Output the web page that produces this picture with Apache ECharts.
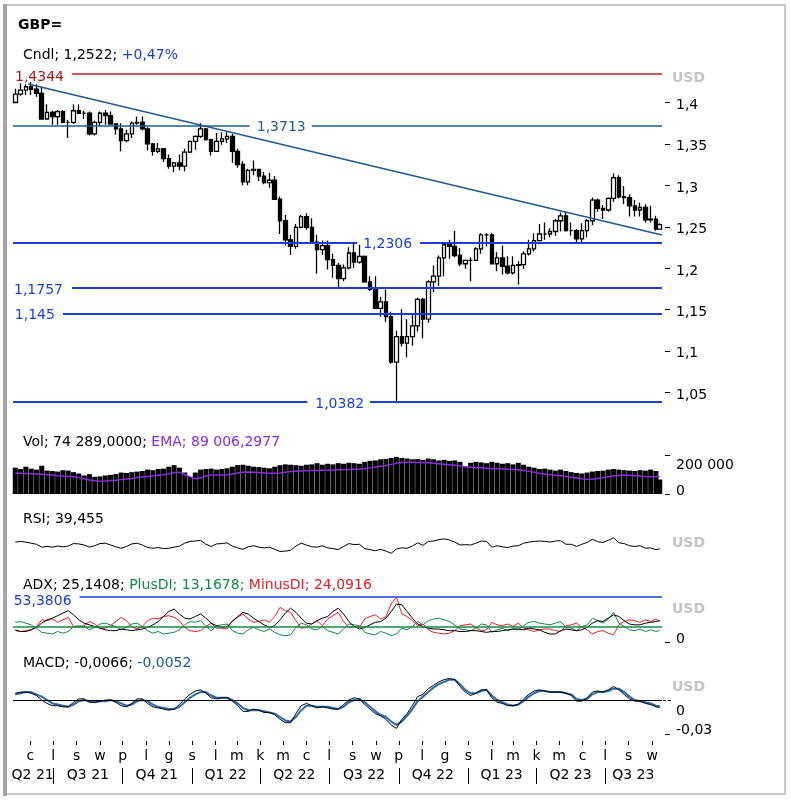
<!DOCTYPE html>
<html><head><meta charset="utf-8">
<script src="https://cdn.jsdelivr.net/npm/echarts@6/dist/echarts.min.js"></script>
<style>html,body{margin:0;padding:0;background:#fff}#c{width:791px;height:800px}</style>
</head><body><div id="c"></div>
<script>
// ---------- categories ----------
const axisStart = '2021-05-09';      // left edge of the plots
const axisEnd = '2023-09-14';        // right edge of the plots
const firstWeek = '2021-05-12';      // first weekly candle (mid-week)
const weekCount = 122;
const lastDay = '2023-09-11';        // last (single-day) candle
const monthLetters = ['s','l','m','k','m','c','l','s','w','p','l','g'];
const quarterDays  = ['2021-06-04','2021-08-16','2021-11-15','2022-02-14','2022-05-16','2022-08-16','2022-11-15','2023-02-14','2023-05-16','2023-08-07'];
const quarterNames = ['Q2 21','Q3 21','Q4 21','Q1 22','Q2 22','Q3 22','Q4 22','Q1 23','Q2 23','Q3 23'];
const priceTicks = [1.05,1.1,1.15,1.2,1.25,1.3,1.35,1.4];
const volTicks = [0,200000];
const adxTicks = [0];
const macdTicks = [-0.03,0];

// ---------- series values ----------
const opens = [1.4000,1.4100,1.4150,1.4190,1.4160,1.4110,1.3800,1.3880,1.3830,1.3890,
 1.3760,1.3760,1.3900,1.3870,1.3870,1.3620,1.3760,1.3870,1.3840,1.3740,
 1.3680,1.3540,1.3620,1.3750,1.3760,1.3680,1.3500,1.3410,1.3440,1.3320,
 1.3230,1.3270,1.3230,1.3400,1.3530,1.3590,1.3680,1.3550,1.3410,1.3530,
 1.3560,1.3590,1.3410,1.3250,1.3040,1.3180,1.3190,1.3110,1.3030,1.3060,
 1.2830,1.2570,1.2340,1.2260,1.2490,1.2620,1.2490,1.2310,1.2220,1.2270,
 1.2100,1.2030,1.1870,1.2000,1.2180,1.2070,1.2140,1.1830,1.1740,1.1510,
 1.1590,1.1410,1.0860,1.1170,1.1090,1.1170,1.1300,1.1620,1.1380,1.1830,
 1.1900,1.2120,1.2280,1.2260,1.2150,1.2050,1.2090,1.2090,1.2230,1.2400,
 1.2400,1.2050,1.2120,1.2020,1.1940,1.2030,1.2040,1.2170,1.2230,1.2330,
 1.2410,1.2410,1.2440,1.2570,1.2630,1.2450,1.2450,1.2350,1.2450,1.2570,
 1.2820,1.2720,1.2700,1.2840,1.3090,1.2860,1.2850,1.2750,1.2700,1.2730,
 1.2580,1.2590,1.2470];
const closes = [1.4100,1.4150,1.4190,1.4160,1.4110,1.3800,1.3880,1.3830,1.3890,1.3760,
 1.3760,1.3900,1.3870,1.3870,1.3620,1.3760,1.3870,1.3840,1.3740,1.3680,
 1.3540,1.3620,1.3750,1.3760,1.3680,1.3500,1.3410,1.3440,1.3320,1.3230,
 1.3270,1.3230,1.3400,1.3530,1.3590,1.3680,1.3550,1.3410,1.3530,1.3560,
 1.3590,1.3410,1.3250,1.3040,1.3180,1.3190,1.3110,1.3030,1.3060,1.2830,
 1.2570,1.2340,1.2260,1.2490,1.2620,1.2490,1.2310,1.2220,1.2270,1.2100,
 1.2030,1.1870,1.2000,1.2180,1.2070,1.2140,1.1830,1.1740,1.1510,1.1590,
 1.1410,1.0860,1.1170,1.1090,1.1170,1.1300,1.1620,1.1380,1.1830,1.1900,
 1.2120,1.2280,1.2260,1.2150,1.2050,1.2090,1.2090,1.2230,1.2400,1.2400,
 1.2050,1.2120,1.2020,1.1940,1.2030,1.2040,1.2170,1.2230,1.2330,1.2410,
 1.2410,1.2440,1.2570,1.2630,1.2450,1.2450,1.2350,1.2450,1.2570,1.2820,
 1.2720,1.2700,1.2840,1.3090,1.2860,1.2850,1.2750,1.2700,1.2730,1.2580,
 1.2590,1.2470,1.2522];
const highs = [1.4166,1.4234,1.4220,1.4249,1.4220,1.4190,1.3980,1.3900,1.3910,1.3910,
 1.3790,1.3980,1.3980,1.3900,1.3890,1.3780,1.3890,1.3910,1.3890,1.3750,
 1.3750,1.3670,1.3770,1.3830,1.3830,1.3700,1.3510,1.3510,1.3450,1.3370,
 1.3280,1.3370,1.3440,1.3540,1.3600,1.3750,1.3690,1.3560,1.3630,1.3640,
 1.3640,1.3620,1.3440,1.3290,1.3200,1.3300,1.3200,1.3160,1.3150,1.3110,
 1.2860,1.2640,1.2400,1.2530,1.2640,1.2660,1.2600,1.2400,1.2330,1.2330,
 1.2170,1.2060,1.2040,1.2250,1.2290,1.2280,1.2150,1.1900,1.1900,1.1650,
 1.1740,1.1470,1.1240,1.1500,1.1380,1.1440,1.1640,1.1640,1.1850,1.2030,
 1.2150,1.2310,1.2340,1.2450,1.2240,1.2100,1.2130,1.2250,1.2420,1.2420,
 1.2420,1.2190,1.2270,1.2140,1.2140,1.2080,1.2200,1.2340,1.2420,1.2530,
 1.2550,1.2480,1.2590,1.2670,1.2680,1.2550,1.2470,1.2540,1.2590,1.2850,
 1.2840,1.2760,1.2850,1.3140,1.3120,1.2990,1.2890,1.2820,1.2790,1.2770,
 1.2750,1.2630,1.2540];
const lows = [1.3990,1.4080,1.4090,1.4090,1.4070,1.3790,1.3790,1.3730,1.3730,1.3750,
 1.3570,1.3740,1.3860,1.3800,1.3600,1.3600,1.3720,1.3730,1.3730,1.3610,
 1.3410,1.3520,1.3570,1.3730,1.3660,1.3420,1.3360,1.3390,1.3280,1.3200,
 1.3160,1.3180,1.3170,1.3390,1.3430,1.3570,1.3540,1.3360,1.3400,1.3490,
 1.3510,1.3270,1.3210,1.3000,1.3000,1.3120,1.3050,1.3010,1.2970,1.2820,
 1.2410,1.2270,1.2160,1.2230,1.2480,1.2460,1.2300,1.1930,1.2160,1.1980,
 1.1880,1.1760,1.1840,1.1980,1.2000,1.2050,1.1820,1.1720,1.1500,1.1410,
 1.1350,1.0840,1.0382,1.1050,1.0920,1.1060,1.1230,1.1150,1.1340,1.1710,
 1.1780,1.1900,1.2110,1.2130,1.2020,1.1990,1.1840,1.2080,1.2170,1.2260,
 1.2040,1.1960,1.1920,1.1920,1.1920,1.1800,1.1990,1.2150,1.2200,1.2320,
 1.2340,1.2370,1.2390,1.2440,1.2440,1.2390,1.2310,1.2300,1.2370,1.2520,
 1.2680,1.2590,1.2680,1.2800,1.2840,1.2770,1.2620,1.2620,1.2620,1.2550,
 1.2550,1.2450,1.2460];
const volumes = [135000,128000,140000,130000,125000,145000,120000,118000,115000,122000,
 120000,112000,105000,95000,102000,88000,90000,95000,98000,102000,
 110000,108000,112000,115000,118000,125000,122000,128000,130000,140000,
 148000,135000,110000,88000,110000,125000,128000,130000,125000,128000,
 132000,140000,148000,150000,145000,140000,138000,135000,132000,140000,
 148000,152000,150000,148000,145000,150000,152000,158000,150000,155000,
 152000,158000,155000,160000,158000,155000,165000,170000,172000,178000,
 180000,185000,190000,185000,182000,178000,180000,175000,182000,178000,
 172000,175000,170000,172000,165000,140000,160000,165000,162000,158000,
 165000,160000,155000,158000,152000,160000,150000,140000,135000,128000,
 130000,125000,120000,125000,118000,112000,108000,105000,110000,115000,
 118000,120000,125000,128000,125000,122000,120000,118000,122000,120000,
 125000,118000,74289];
const volEma = [106000,106000,105000,104000,103000,101000,99000,97000,94000,92000,
 90000,88000,84000,78000,72000,68000,66000,67000,69000,71000,
 74000,77000,80000,84000,87000,90000,93000,96000,99000,104000,
 110000,112000,100000,88000,78000,82000,92000,97000,98000,97000,
 99000,103000,108000,112000,113000,112000,110000,108000,106000,106000,
 108000,112000,115000,117000,118000,119000,120000,121000,122000,122000,
 123000,124000,125000,126000,127000,128000,130000,134000,138000,142000,
 146000,152000,158000,162000,163000,163000,162000,161000,160000,158000,
 155000,152000,150000,148000,145000,140000,137000,136000,134000,132000,
 130000,129000,128000,127000,126000,124000,121000,117000,112000,107000,
 103000,99000,96000,93000,90000,86000,82000,78000,75000,76000,
 80000,84000,88000,92000,95000,97000,96000,94000,92000,90000,
 89000,88000,89006.2977];
const rsi = [58,60,58,55,52,44,46,44,47,45,
 47,54,53,50,44,48,54,55,50,45,
 41,46,53,55,50,43,41,43,40,41,
 44,47,55,60,61,63,52,46,53,54,
 56,47,42,38,45,48,44,42,44,38,
 32,33,35,47,55,50,45,44,48,42,
 40,37,46,54,51,52,40,37,34,38,
 33,27,39,42,41,47,56,49,60,61,
 65,67,64,58,50,51,50,55,61,60,
 44,48,45,43,47,48,55,58,60,61,
 60,58,61,62,52,52,46,52,57,66,
 59,57,63,70,56,54,48,46,48,41,
 42,37,39.455];
const adx = [14,12,12,14,17,22,26,28,31,34,
 37,32,26,22,20,18,16,14,13,13,
 15,14,13,14,15,17,20,24,30,36,
 39,33,28,27,30,33,28,22,19,17,
 18,24,30,35,33,28,24,20,17,19,
 26,34,40,35,28,22,21,25,28,30,
 36,40,33,24,18,15,17,20,23,24,
 28,36,45,44,36,28,21,18,16,15,
 15,14,13,13,12,12,13,13,12,11,
 12,12,13,14,15,15,14,16,15,14,
 11,9,9,13,15,14,13,14,17,22,
 25,24,28,32,30,25,21,20,20,22,
 23,24,25.1408];
const plusDI = [23,24,22,20,16,11,10,9,12,10,
 12,18,19,18,14,17,21,22,20,18,
 14,17,21,22,18,13,10,12,9,10,
 11,14,20,24,23,25,18,13,19,20,
 21,13,10,9,14,17,14,12,15,11,
 8,7,8,17,22,20,15,14,18,13,
 11,9,15,21,20,19,11,9,8,12,
 10,7,9,16,14,18,24,20,25,27,
 28,26,24,20,15,14,13,16,21,20,
 11,14,16,13,15,14,19,23,24,22,
 21,20,22,24,17,16,13,18,20,28,
 25,22,27,35,22,18,14,13,15,12,
 14,12,13.1678];
const minusDI = [13,12,13,14,18,26,25,27,23,26,
 29,18,17,19,24,21,16,16,19,24,
 29,25,18,15,18,25,28,27,30,31,
 29,25,17,13,12,13,18,22,16,16,
 15,25,29,33,27,23,24,26,23,30,
 41,37,35,25,16,17,21,25,19,27,
 31,35,24,17,18,17,27,30,32,27,
 30,45,53.3806,33,30,25,19,21,14,11,
 10,9,10,13,19,20,21,17,13,14,
 23,20,19,21,18,22,16,14,12,14,
 15,15,13,12,19,20,22,17,14,9,
 12,13,10,8,20,24,26,25,23,26,
 24,27,24.0916];
const macd = [0.006,0.007,0.007,0.006,0.004,0.000,-0.003,-0.005,-0.005,-0.006,
 -0.006,-0.002,0.001,0.001,-0.002,-0.002,-0.001,0.000,0.000,-0.002,
 -0.005,-0.006,-0.003,0.001,0.001,-0.003,-0.006,-0.007,-0.008,-0.009,
 -0.008,-0.004,0.001,0.005,0.008,0.009,0.006,0.002,0.001,0.002,
 0.002,-0.001,-0.005,-0.010,-0.010,-0.008,-0.009,-0.011,-0.011,-0.013,
 -0.017,-0.020,-0.020,-0.012,-0.005,-0.003,-0.005,-0.007,-0.006,-0.007,
 -0.008,-0.008,-0.004,0.000,0.002,0.001,-0.004,-0.008,-0.012,-0.014,
 -0.017,-0.022,-0.025,-0.017,-0.012,-0.005,0.003,0.005,0.010,0.013,
 0.016,0.018,0.019,0.018,0.012,0.007,0.004,0.006,0.009,0.009,
 0.002,-0.002,-0.003,-0.005,-0.005,-0.004,0.001,0.005,0.008,0.009,
 0.008,0.007,0.007,0.007,0.006,0.004,-0.001,-0.001,0.002,0.007,
 0.008,0.007,0.009,0.012,0.009,0.005,0.001,-0.001,-0.001,-0.003,
 -0.004,-0.006,-0.0066];
const macdSignal = [0.005,0.006,0.007,0.007,0.005,0.003,0.000,-0.003,-0.004,-0.005,
 -0.006,-0.004,-0.001,0.000,-0.001,-0.002,-0.001,-0.001,0.000,-0.001,
 -0.003,-0.005,-0.004,-0.001,0.000,-0.001,-0.004,-0.006,-0.007,-0.008,
 -0.008,-0.006,-0.002,0.002,0.005,0.007,0.007,0.004,0.002,0.002,
 0.002,0.000,-0.003,-0.007,-0.009,-0.009,-0.009,-0.010,-0.011,-0.012,
 -0.015,-0.018,-0.019,-0.015,-0.009,-0.005,-0.005,-0.006,-0.006,-0.006,
 -0.007,-0.008,-0.006,-0.002,0.000,0.001,-0.002,-0.006,-0.010,-0.013,
 -0.015,-0.019,-0.022,-0.019,-0.014,-0.008,-0.001,0.003,0.007,0.011,
 0.014,0.016,0.018,0.018,0.014,0.009,0.006,0.006,0.008,0.009,
 0.004,0.000,-0.002,-0.004,-0.005,-0.004,-0.001,0.003,0.006,0.008,
 0.008,0.007,0.007,0.007,0.006,0.005,0.001,0.000,0.001,0.005,
 0.007,0.007,0.008,0.010,0.010,0.007,0.003,0.000,-0.001,-0.002,
 -0.003,-0.005,-0.0052];

// ---------- reference levels ----------
const priceLevels = [1.4344, 1.3713, 1.2306, 1.1757, 1.145, 1.0382];
const trendStart = ['2021-05-29', 1.4223];
const trendEnd = ['2023-09-14', 1.2397];
const adxMaxLevel = 53.3806;
const adxLevel = 18;
const macdZero = 0;

// ---------- build ----------
const DAY = 86400000;
const t0 = Date.parse(axisStart);
const dayOf = s => Math.round((Date.parse(s) - t0) / DAY);
const dEnd = dayOf(axisEnd);
const weekDates = [];
for (let i = 0; i < weekCount; i++) weekDates.push(new Date(Date.parse(firstWeek) + i * 7 * DAY).toISOString().slice(0, 10));
weekDates.push(lastDay);
const allDays = [];
for (let d = 0; d <= dEnd; d++) allDays.push(new Date(t0 + d * DAY).toISOString().slice(0, 10));
const qMap = {}; quarterDays.forEach((d, i) => qMap[d] = quarterNames[i]);

const xs = weekDates.map(dayOf);
const pairs = arr => arr.map((v, i) => [xs[i], v]);
const candleData = xs.map((x, i) => [x, opens[i], closes[i], lows[i], highs[i]]);

const fam = 'DejaVu Sans';
const fmtNum = v => String(Math.round(v * 10000) / 10000).replace('.', ',');

const TEAL = '#1f5b8e', BLUE = '#1d3fd1', DRED = '#a11d1d', RED = '#b8231f';
function seg(d1, d2, y, color, width, label, pos, dist, shift) {
  const c = color === RED ? DRED : color;
  return [{
    coord: [d1, y],
    lineStyle: {color: color, width: width, type: 'solid'},
    label: label ? {show: true, formatter: '{s|' + label + '}', position: pos, distance: dist, color: c,
      rich: {s: {color: c, fontFamily: fam, fontSize: 14, padding: [2 * (shift || 0), 0, 0, 0]}}} : {show: false}
  }, {coord: [d2, y]}];
}
const [L1, L2, L3, L4, L5, L6] = priceLevels;
const priceMarks = [
  seg(78, dEnd, L1, RED, 1.5, fmtNum(L1), 'start', 8, 3.5),
  seg(0, 313, L2, TEAL, 1.5, fmtNum(L2), 'end', 7, 1.5),
  seg(395, dEnd, L2, TEAL, 1.5),
  seg(0, 455, L3, BLUE, 2, fmtNum(L3), 'end', 6, 2),
  seg(538, dEnd, L3, BLUE, 2),
  seg(78, dEnd, L4, BLUE, 2, fmtNum(L4), 'start', 9, 2),
  seg(66, dEnd, L5, BLUE, 2, fmtNum(L5), 'start', 8, 2),
  seg(0, 389, L6, BLUE, 2, fmtNum(L6), 'end', 8, 2.5),
  seg(472, dEnd, L6, BLUE, 2),
  [{coord: [dayOf(trendStart[0]), trendStart[1]], lineStyle: {color: TEAL, width: 1.5, type: 'solid'}, label: {show: false}},
   {coord: [dayOf(trendEnd[0]), trendEnd[1]]}]
];

const L = 13, W = 649;
const grids = [
  {left: L, width: W, top: 69.4, height: 339.1},
  {left: L, width: W, top: 455, height: 39},
  {left: L, width: W, top: 527, height: 36},
  {left: L, width: W, top: 591.5, height: 50},
  {left: L, width: W, top: 671.7, height: 62.3}
];
const xAxes = grids.map((g, i) => ({type: 'value', gridIndex: i, min: 0, max: dEnd, show: false}));
xAxes.push({
  type: 'category', gridIndex: 4, data: allDays, boundaryGap: false, position: 'bottom', offset: 7,
  axisLine: {show: false},
  axisTick: {show: true, length: 4, interval: (i, v) => v.slice(8) === '01', lineStyle: {color: '#000', width: 1}},
  axisLabel: {show: true, interval: (i, v) => v.slice(8) === '01', formatter: v => monthLetters[parseInt(v.slice(5, 7), 10) - 1], margin: 8, fontFamily: fam, fontSize: 14, color: '#000'},
  splitLine: {show: false}
});
xAxes.push({
  type: 'category', gridIndex: 4, data: allDays, boundaryGap: false, position: 'bottom', offset: 34,
  axisLine: {show: false},
  axisTick: {show: true, length: 16, interval: (i, v) => v.slice(8) === '01' && ['01', '04', '07', '10'].indexOf(v.slice(5, 7)) >= 0, lineStyle: {color: '#000', width: 1}},
  axisLabel: {show: true, interval: (i, v) => qMap[v] !== undefined, formatter: v => qMap[v] || '', margin: 0, fontFamily: fam, fontSize: 14, color: '#000'},
  splitLine: {show: false}
});

const rich = (pt, pb) => ({fontFamily: fam, fontSize: 14, color: '#000', padding: [pt, 0, pb, 0]});
function rightAxis(i, min, max, ticks, fmt, richDef) {
  return {
    type: 'value', gridIndex: i, position: 'right', min: min, max: max, offset: 3,
    axisLine: {show: false}, splitLine: {show: false},
    axisTick: {show: false},
    axisLabel: {show: true, customValues: ticks, margin: 11, formatter: fmt, rich: richDef, fontFamily: fam, fontSize: 14, color: '#000'}
  };
}
const yAxes = [
  rightAxis(0, 1.03, 1.44, priceTicks, v => '{p|' + fmtNum(v) + '}', {p: rich(6, 0)}),
  rightAxis(1, 0, 200000, volTicks, v => v === 0 ? '{b|0}' : '{t|200 000}', {t: rich(20, 0), b: rich(0, 5)}),
  {type: 'value', gridIndex: 2, min: 0, max: 100, show: false, splitLine: {show: false}},
  rightAxis(3, 0, 60, adxTicks, v => '{b|0}', {b: rich(0, 5)}),
  rightAxis(4, -0.03, 0.025, macdTicks, v => v === 0 ? '{t|0}' : '{b|-0,03}', {t: rich(22, 0), b: rich(0, 8)})
];

const line = (xi, data, color, width, z) => ({
  type: 'line', xAxisIndex: xi, yAxisIndex: xi, data: data, showSymbol: false, symbol: 'none',
  lineStyle: {color: color, width: width}, z: z || 3, silent: true, animation: false
});
const levelSeries = (xi, marks) => ({
  type: 'line', xAxisIndex: xi, yAxisIndex: xi, data: [], z: 1, silent: true,
  markLine: {symbol: ['none', 'none'], silent: true, animation: false, emphasis: {disabled: true}, data: marks}
});

const series = [
  levelSeries(0, priceMarks),
  {
    type: 'candlestick', xAxisIndex: 0, yAxisIndex: 0, data: candleData, barWidth: 4, z: 3, silent: true,
    itemStyle: {color: '#ffffff', color0: '#000000', borderColor: '#000000', borderColor0: '#000000', borderWidth: 1.3}
  },
  {type: 'bar', xAxisIndex: 1, yAxisIndex: 1, data: pairs(volumes), barWidth: 5, itemStyle: {color: '#000'}, silent: true, z: 2},
  line(1, pairs(volEma), '#8a2be2', 1.5, 4),
  line(2, pairs(rsi), '#000', 1),
  levelSeries(3, [
    seg(88, dEnd, adxMaxLevel, BLUE, 1.5, fmtNum(adxMaxLevel), 'start', 8, 4),
    seg(0, dEnd, adxLevel, '#1a8a4a', 1.5)
  ]),
  line(3, pairs(plusDI), '#14894a', 1),
  line(3, pairs(minusDI), '#e8202a', 1),
  line(3, pairs(adx), '#000', 1),
  levelSeries(4, [seg(0, dEnd, macdZero, '#000', 1)]),
  line(4, pairs(macdSignal), '#2a6aa6', 2),
  line(4, pairs(macd), '#000', 1)
];

const F = '14px "DejaVu Sans"';
const tk = c => ({fill: c, font: F});
const graphic = [
  {type: 'rect', silent: true, shape: {x: 5, y: 5, width: 780, height: 789}, style: {fill: 'none', stroke: '#c8c8c8', lineWidth: 2}},
  {type: 'line', silent: true, shape: {x1: 5, y1: 4, x2: 5, y2: 796}, style: {stroke: '#a4a4a4', lineWidth: 4}},
  {type: 'text', x: 18, y: 25, style: {text: 'GBP=', font: 'bold 14px "DejaVu Sans"', fill: '#000', verticalAlign: 'middle'}},
  {type: 'text', x: 23, y: 55, style: {text: '{a|Cndl; 1,2522; }{b|+0,47%}', rich: {a: tk('#000'), b: tk(BLUE)}, font: F, verticalAlign: 'middle'}},
  {type: 'text', x: 23, y: 442, style: {text: '{a|Vol; 74 289,0000; }{b|EMA; 89 006,2977}', rich: {a: tk('#000'), b: tk('#8a2be2')}, font: F, verticalAlign: 'middle'}},
  {type: 'text', x: 23, y: 519, style: {text: 'RSI; 39,455', font: F, fill: '#000', verticalAlign: 'middle'}},
  {type: 'text', x: 23, y: 585, style: {text: '{a|ADX; 25,1408; }{g|PlusDI; 13,1678; }{r|MinusDI; 24,0916}', rich: {a: tk('#000'), g: tk('#14894a'), r: tk('#e8202a')}, font: F, verticalAlign: 'middle'}},
  {type: 'text', x: 23, y: 663, style: {text: '{a|MACD; -0,0066; }{b|-0,0052}', rich: {a: tk('#000'), b: tk(TEAL)}, font: F, verticalAlign: 'middle'}},
  {type: 'text', x: 672, y: 78, style: {text: 'USD', font: 'bold 14px "DejaVu Sans"', fill: '#c4c4c4', verticalAlign: 'middle'}},
  {type: 'text', x: 672, y: 543, style: {text: 'USD', font: 'bold 14px "DejaVu Sans"', fill: '#c4c4c4', verticalAlign: 'middle'}},
  {type: 'text', x: 672, y: 609, style: {text: 'USD', font: 'bold 14px "DejaVu Sans"', fill: '#c4c4c4', verticalAlign: 'middle'}},
  {type: 'text', x: 672, y: 687, style: {text: 'USD', font: 'bold 14px "DejaVu Sans"', fill: '#c4c4c4', verticalAlign: 'middle'}}
];

const chart = echarts.init(document.getElementById('c'), null, {renderer: 'canvas'});
chart.setOption({
  animation: false,
  backgroundColor: '#fff',
  textStyle: {fontFamily: fam},
  grid: grids,
  xAxis: xAxes,
  yAxis: yAxes,
  series: series,
  graphic: graphic
});

// value-axis tick marks on the right, positioned through each axis's own scale
const tickSets = [[0, priceTicks], [1, volTicks], [3, adxTicks], [4, macdTicks]];
const tickMarks = [];
const xTick = L + W + 3;
tickSets.forEach(([ai, vals]) => vals.forEach(v => {
  const y = Math.round(chart.convertToPixel({yAxisIndex: ai}, v)) + 0.5;
  const dashed = (ai === 4 && v === 0);
  tickMarks.push({
    type: 'line', silent: true,
    shape: {x1: dashed ? xTick - 2 : xTick, y1: y, x2: dashed ? xTick + 8 : xTick + 5, y2: y},
    style: {stroke: '#000', lineWidth: 1, lineDash: dashed ? [3, 2] : null}
  });
}));
chart.setOption({graphic: graphic.concat(tickMarks)});
</script>
</body></html>
